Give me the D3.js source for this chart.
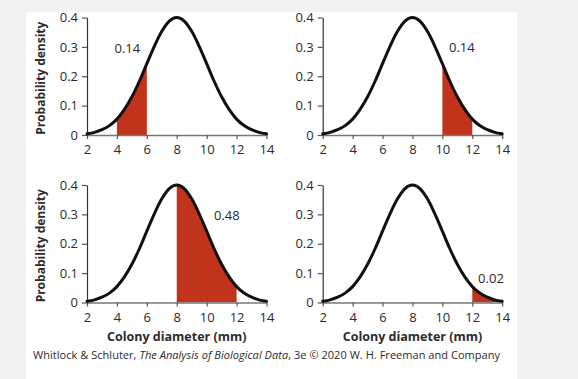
<!DOCTYPE html>
<html>
<head>
<meta charset="utf-8">
<script src="https://cdn.jsdelivr.net/npm/d3@7"></script>
<style>
  body { margin: 0; background: #f2f2f2; }
  text { font-family: "Open Sans", sans-serif; fill: #2b2b2b; }
</style>
</head>
<body>
<svg id="chart" width="578" height="379"></svg>
<script>
// curve (same curve in every panel)
const densityX = [2, 2.5, 3, 3.5, 4, 4.5, 5, 5.5, 6, 6.5, 7, 7.5, 8,
                  8.5, 9, 9.5, 10, 10.5, 11, 11.5, 12, 12.5, 13, 13.5, 14];
const densityY = [0.004, 0.009, 0.018, 0.032, 0.054, 0.087, 0.130, 0.183, 0.243, 0.302, 0.353, 0.388, 0.400,
                  0.388, 0.353, 0.302, 0.243, 0.183, 0.130, 0.087, 0.054, 0.032, 0.018, 0.009, 0.004];

// shaded interval and its probability, one per panel
const shadeFrom = [4, 10, 8, 12];
const shadeTo = [6, 12, 12, 14];
const areaLabels = ["0.14", "0.14", "0.48", "0.02"];
const labelX = [4.7, 11.3, 11.35, 13.25];
const labelY = [0.296, 0.297, 0.298, 0.081];

const xTicks = [2, 4, 6, 8, 10, 12, 14];
const yTicks = [0, 0.1, 0.2, 0.3, 0.4];

const svg = d3.select("#chart");

// white page
svg.append("rect")
    .attr("x", 26).attr("y", 12)
    .attr("width", 491).attr("height", 367)
    .attr("fill", "white");

var panelW = 179.5, panelH = 117.5;
var panels = [
    {left: 87, top: 17.5},
    {left: 322.7, top: 17.5},
    {left: 87, top: 185},
    {left: 322.7, top: 185}
];

var x = d3.scaleLinear().domain([2, 14]).range([0, panelW]);
var y = d3.scaleLinear().domain([0, 0.4]).range([panelH, 0]);

const pts = densityX.map((d, i) => [d, densityY[i]]);

const line = d3.line()
    .x(d => x(d[0]))
    .y(d => y(d[1]))
    .curve(d3.curveMonotoneX);
const area = d3.area()
    .x(d => x(d[0]))
    .y0(y(0))
    .y1(d => y(d[1]))
    .curve(d3.curveMonotoneX);

panels.forEach((p, i) => {
    var g = svg.append("g")
        .attr("transform", `translate(${p.left}, ${p.top})`);

    // shaded area, clipped to the interval
    g.append("clipPath")
        .attr("id", "clip" + i)
        .append("rect")
        .attr("x", x(shadeFrom[i]))
        .attr("y", -5)
        .attr("width", x(shadeTo[i]) - x(shadeFrom[i]))
        .attr("height", panelH + 5);
    g.append("path")
        .datum(pts)
        .attr("d", area)
        .attr("fill", "#c2331b")
        .attr("clip-path", `url(#clip${i})`);

    // x axis
    var xa = g.append("g")
        .attr("transform", `translate(0, ${panelH})`)
        .call(d3.axisBottom(x).tickValues(xTicks).tickSize(4).tickSizeOuter(0).tickPadding(6));
    xa.select(".domain").attr("stroke", "#777").attr("stroke-width", 1.3);
    xa.selectAll(".tick line").attr("stroke", "#555").attr("stroke-width", 1.2);
    xa.selectAll("text").style("font-size", "13px").attr("fill", "#2b2b2b");

    // y axis
    var ya = g.append("g")
        .call(d3.axisLeft(y).tickValues(yTicks).tickSize(5).tickSizeOuter(0).tickPadding(4)
            .tickFormat(d => d === 0 ? "0" : d3.format(".1f")(d)));
    ya.select(".domain").attr("stroke", "#333").attr("stroke-width", 1.2);
    ya.selectAll(".tick line").attr("stroke", "#555").attr("stroke-width", 1.2);
    ya.selectAll("text").style("font-size", "13px").attr("fill", "#2b2b2b");

    // density curve
    g.append("path")
        .datum(pts)
        .attr("d", line)
        .attr("fill", "none")
        .attr("stroke", "#111")
        .attr("stroke-width", 3)
        .attr("stroke-linecap", "round");

    // probability label
    g.append("text")
        .attr("x", x(labelX[i]))
        .attr("y", y(labelY[i]))
        .attr("dy", "0.35em")
        .attr("text-anchor", "middle")
        .style("font-size", "13px")
        .text(areaLabels[i]);

    // axis titles on the outer panels
    if (i % 2 === 0) {
        g.append("text")
            .attr("transform", `translate(${41 - p.left}, ${panelH / 2 + 2}) rotate(-90)`)
            .attr("text-anchor", "middle")
            .attr("dy", "0.35em")
            .style("font-size", "12px")
            .style("font-weight", "bold")
            .text("Probability density");
    }
    if (i >= 2) {
        g.append("text")
            .attr("x", panelW / 2)
            .attr("y", panelH + 38.5)
            .attr("text-anchor", "middle")
            .style("font-size", "12.5px")
            .style("font-weight", "bold")
            .text("Colony diameter (mm)");
    }
});

// credit line
var cap = svg.append("text")
    .attr("x", 33)
    .attr("y", 358.5)
    .style("font-size", "11px")
    .attr("textLength", 467);
cap.append("tspan").text("Whitlock & Schluter, ");
cap.append("tspan").style("font-style", "italic").text("The Analysis of Biological Data");
cap.append("tspan").text(", 3e © 2020 W. H. Freeman and Company");
</script>
</body>
</html>
